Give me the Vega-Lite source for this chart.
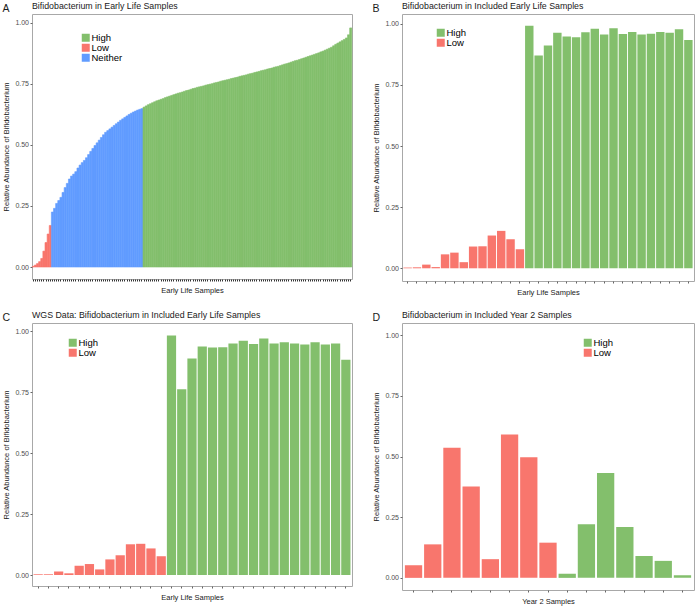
{
  "$schema": "https://vega.github.io/schema/vega-lite/v6.json",
  "padding": {"left": 2, "top": 1, "right": 0, "bottom": 0},
  "datasets": {
    "a": [
      {"s":1,"v":0.003,"g":"Low"},{"s":2,"v":0.008,"g":"Low"},{"s":3,"v":0.014,"g":"Low"},{"s":4,"v":0.022,"g":"Low"},{"s":5,"v":0.035,"g":"Low"},{"s":6,"v":0.065,"g":"Low"},{"s":7,"v":0.10,"g":"Low"},{"s":8,"v":0.135,"g":"Low"},{"s":9,"v":0.17,"g":"Low"},
      {"s":10,"v":0.225,"g":"Neither"},{"s":11,"v":0.24,"g":"Neither"},{"s":12,"v":0.26,"g":"Neither"},{"s":13,"v":0.272,"g":"Neither"},{"s":14,"v":0.285,"g":"Neither"},{"s":15,"v":0.305,"g":"Neither"},{"s":16,"v":0.325,"g":"Neither"},{"s":17,"v":0.342,"g":"Neither"},{"s":18,"v":0.36,"g":"Neither"},{"s":19,"v":0.372,"g":"Neither"},
      {"s":20,"v":0.38,"g":"Neither"},{"s":21,"v":0.39,"g":"Neither"},{"s":22,"v":0.405,"g":"Neither"},{"s":23,"v":0.417,"g":"Neither"},{"s":24,"v":0.427,"g":"Neither"},{"s":25,"v":0.436,"g":"Neither"},{"s":26,"v":0.447,"g":"Neither"},{"s":27,"v":0.46,"g":"Neither"},{"s":28,"v":0.473,"g":"Neither"},{"s":29,"v":0.485,"g":"Neither"},
      {"s":30,"v":0.497,"g":"Neither"},{"s":31,"v":0.508,"g":"Neither"},{"s":32,"v":0.519,"g":"Neither"},{"s":33,"v":0.53,"g":"Neither"},{"s":34,"v":0.541,"g":"Neither"},{"s":35,"v":0.551,"g":"Neither"},{"s":36,"v":0.558,"g":"Neither"},{"s":37,"v":0.565,"g":"Neither"},{"s":38,"v":0.572,"g":"Neither"},{"s":39,"v":0.579,"g":"Neither"},
      {"s":40,"v":0.586,"g":"Neither"},{"s":41,"v":0.593,"g":"Neither"},{"s":42,"v":0.6,"g":"Neither"},{"s":43,"v":0.606,"g":"Neither"},{"s":44,"v":0.612,"g":"Neither"},{"s":45,"v":0.618,"g":"Neither"},{"s":46,"v":0.624,"g":"Neither"},{"s":47,"v":0.629,"g":"Neither"},{"s":48,"v":0.634,"g":"Neither"},{"s":49,"v":0.638,"g":"Neither"},
      {"s":50,"v":0.642,"g":"Neither"},{"s":51,"v":0.645,"g":"Neither"},{"s":52,"v":0.648,"g":"Neither"},
      {"s":53,"v":0.654,"g":"High"},{"s":54,"v":0.659,"g":"High"},{"s":55,"v":0.664,"g":"High"},{"s":56,"v":0.668,"g":"High"},{"s":57,"v":0.672,"g":"High"},{"s":58,"v":0.676,"g":"High"},{"s":59,"v":0.68,"g":"High"},{"s":60,"v":0.683,"g":"High"},{"s":61,"v":0.686,"g":"High"},{"s":62,"v":0.689,"g":"High"},
      {"s":63,"v":0.693,"g":"High"},{"s":64,"v":0.696,"g":"High"},{"s":65,"v":0.699,"g":"High"},{"s":66,"v":0.702,"g":"High"},{"s":67,"v":0.705,"g":"High"},{"s":68,"v":0.708,"g":"High"},{"s":69,"v":0.711,"g":"High"},{"s":70,"v":0.713,"g":"High"},{"s":71,"v":0.716,"g":"High"},{"s":72,"v":0.719,"g":"High"},
      {"s":73,"v":0.722,"g":"High"},{"s":74,"v":0.724,"g":"High"},{"s":75,"v":0.727,"g":"High"},{"s":76,"v":0.73,"g":"High"},{"s":77,"v":0.732,"g":"High"},{"s":78,"v":0.735,"g":"High"},{"s":79,"v":0.737,"g":"High"},{"s":80,"v":0.739,"g":"High"},{"s":81,"v":0.741,"g":"High"},{"s":82,"v":0.744,"g":"High"},
      {"s":83,"v":0.746,"g":"High"},{"s":84,"v":0.748,"g":"High"},{"s":85,"v":0.75,"g":"High"},{"s":86,"v":0.753,"g":"High"},{"s":87,"v":0.755,"g":"High"},{"s":88,"v":0.757,"g":"High"},{"s":89,"v":0.76,"g":"High"},{"s":90,"v":0.762,"g":"High"},{"s":91,"v":0.764,"g":"High"},{"s":92,"v":0.766,"g":"High"},
      {"s":93,"v":0.768,"g":"High"},{"s":94,"v":0.771,"g":"High"},{"s":95,"v":0.773,"g":"High"},{"s":96,"v":0.775,"g":"High"},{"s":97,"v":0.777,"g":"High"},{"s":98,"v":0.78,"g":"High"},{"s":99,"v":0.782,"g":"High"},{"s":100,"v":0.784,"g":"High"},{"s":101,"v":0.786,"g":"High"},{"s":102,"v":0.789,"g":"High"},
      {"s":103,"v":0.791,"g":"High"},{"s":104,"v":0.793,"g":"High"},{"s":105,"v":0.796,"g":"High"},{"s":106,"v":0.798,"g":"High"},{"s":107,"v":0.8,"g":"High"},{"s":108,"v":0.803,"g":"High"},{"s":109,"v":0.805,"g":"High"},{"s":110,"v":0.807,"g":"High"},{"s":111,"v":0.81,"g":"High"},{"s":112,"v":0.812,"g":"High"},
      {"s":113,"v":0.814,"g":"High"},{"s":114,"v":0.817,"g":"High"},{"s":115,"v":0.819,"g":"High"},{"s":116,"v":0.821,"g":"High"},{"s":117,"v":0.824,"g":"High"},{"s":118,"v":0.827,"g":"High"},{"s":119,"v":0.83,"g":"High"},{"s":120,"v":0.832,"g":"High"},{"s":121,"v":0.835,"g":"High"},{"s":122,"v":0.838,"g":"High"},
      {"s":123,"v":0.841,"g":"High"},{"s":124,"v":0.844,"g":"High"},{"s":125,"v":0.846,"g":"High"},{"s":126,"v":0.849,"g":"High"},{"s":127,"v":0.852,"g":"High"},{"s":128,"v":0.855,"g":"High"},{"s":129,"v":0.858,"g":"High"},{"s":130,"v":0.861,"g":"High"},{"s":131,"v":0.864,"g":"High"},{"s":132,"v":0.867,"g":"High"},
      {"s":133,"v":0.87,"g":"High"},{"s":134,"v":0.873,"g":"High"},{"s":135,"v":0.876,"g":"High"},{"s":136,"v":0.88,"g":"High"},{"s":137,"v":0.883,"g":"High"},{"s":138,"v":0.887,"g":"High"},{"s":139,"v":0.891,"g":"High"},{"s":140,"v":0.895,"g":"High"},{"s":141,"v":0.899,"g":"High"},{"s":142,"v":0.905,"g":"High"},
      {"s":143,"v":0.911,"g":"High"},{"s":144,"v":0.916,"g":"High"},{"s":145,"v":0.921,"g":"High"},{"s":146,"v":0.926,"g":"High"},{"s":147,"v":0.931,"g":"High"},{"s":148,"v":0.937,"g":"High"},{"s":149,"v":0.95,"g":"High"},{"s":150,"v":0.978,"g":"High"}
    ],
    "b": [
      {"s":1,"v":0.003,"g":"Low"},{"s":2,"v":0.004,"g":"Low"},{"s":3,"v":0.015,"g":"Low"},{"s":4,"v":0.005,"g":"Low"},{"s":5,"v":0.057,"g":"Low"},{"s":6,"v":0.064,"g":"Low"},{"s":7,"v":0.025,"g":"Low"},{"s":8,"v":0.089,"g":"Low"},{"s":9,"v":0.09,"g":"Low"},{"s":10,"v":0.134,"g":"Low"},{"s":11,"v":0.153,"g":"Low"},{"s":12,"v":0.119,"g":"Low"},{"s":13,"v":0.078,"g":"Low"},
      {"s":14,"v":0.992,"g":"High"},{"s":15,"v":0.87,"g":"High"},{"s":16,"v":0.911,"g":"High"},{"s":17,"v":0.963,"g":"High"},{"s":18,"v":0.948,"g":"High"},{"s":19,"v":0.945,"g":"High"},{"s":20,"v":0.965,"g":"High"},{"s":21,"v":0.98,"g":"High"},{"s":22,"v":0.956,"g":"High"},{"s":23,"v":0.982,"g":"High"},{"s":24,"v":0.958,"g":"High"},{"s":25,"v":0.966,"g":"High"},{"s":26,"v":0.956,"g":"High"},{"s":27,"v":0.959,"g":"High"},{"s":28,"v":0.966,"g":"High"},{"s":29,"v":0.963,"g":"High"},{"s":30,"v":0.978,"g":"High"},{"s":31,"v":0.934,"g":"High"}
    ],
    "c": [
      {"s":1,"v":0.003,"g":"Low"},{"s":2,"v":0.003,"g":"Low"},{"s":3,"v":0.014,"g":"Low"},{"s":4,"v":0.007,"g":"Low"},{"s":5,"v":0.038,"g":"Low"},{"s":6,"v":0.045,"g":"Low"},{"s":7,"v":0.023,"g":"Low"},{"s":8,"v":0.064,"g":"Low"},{"s":9,"v":0.081,"g":"Low"},{"s":10,"v":0.126,"g":"Low"},{"s":11,"v":0.128,"g":"Low"},{"s":12,"v":0.109,"g":"Low"},{"s":13,"v":0.077,"g":"Low"},
      {"s":14,"v":0.982,"g":"High"},{"s":15,"v":0.761,"g":"High"},{"s":16,"v":0.887,"g":"High"},{"s":17,"v":0.937,"g":"High"},{"s":18,"v":0.933,"g":"High"},{"s":19,"v":0.934,"g":"High"},{"s":20,"v":0.949,"g":"High"},{"s":21,"v":0.96,"g":"High"},{"s":22,"v":0.947,"g":"High"},{"s":23,"v":0.969,"g":"High"},{"s":24,"v":0.949,"g":"High"},{"s":25,"v":0.954,"g":"High"},{"s":26,"v":0.949,"g":"High"},{"s":27,"v":0.945,"g":"High"},{"s":28,"v":0.954,"g":"High"},{"s":29,"v":0.945,"g":"High"},{"s":30,"v":0.949,"g":"High"},{"s":31,"v":0.882,"g":"High"}
    ],
    "d": [
      {"s":1,"v":0.052,"g":"Low"},{"s":2,"v":0.138,"g":"Low"},{"s":3,"v":0.536,"g":"Low"},{"s":4,"v":0.376,"g":"Low"},{"s":5,"v":0.077,"g":"Low"},{"s":6,"v":0.591,"g":"Low"},{"s":7,"v":0.497,"g":"Low"},{"s":8,"v":0.145,"g":"Low"},
      {"s":9,"v":0.017,"g":"High"},{"s":10,"v":0.221,"g":"High"},{"s":11,"v":0.432,"g":"High"},{"s":12,"v":0.21,"g":"High"},{"s":13,"v":0.09,"g":"High"},{"s":14,"v":0.07,"g":"High"},{"s":15,"v":0.011,"g":"High"}
    ]
  },
  "resolve": {"scale": {"color": "independent"}, "legend": {"color": "independent"}},
  "spacing": 13,
  "vconcat": [
    {
      "spacing": 19,
      "resolve": {"scale": {"color": "independent"}, "legend": {"color": "independent"}},
      "hconcat": [
        {
          "title": {"text": "A", "fontSize": 10.5, "frame": "bounds", "dy": 13, "offset": 0},
          "resolve": {"scale": {"color": "independent", "stroke": "independent"}, "legend": {"color": "independent"}},
          "vconcat": [
            {
              "title": {"text": "Bifidobacterium in Early Life Samples"},
              "width": 320, "height": 265,
              "data": {"name": "a"},
              "mark": {"type": "bar", "strokeWidth": 0.6},
              "encoding": {
                "x": {"field": "s", "type": "ordinal", "sort": null, "scale": {"paddingInner": 0, "paddingOuter": 0.1}, "axis": {"labels": false, "title": "Early Life Samples", "tickColor": "#333"}},
                "y": {"field": "v", "type": "quantitative", "scale": {"domain": [-0.049, 1.035], "nice": false, "zero": false}, "axis": {"values": [0, 0.25, 0.5, 0.75, 1], "format": ".2f", "title": "Relative Abundance of Bifidobacterium"}},
                "color": {"field": "g", "type": "nominal", "scale": {"domain": ["High", "Low", "Neither"], "range": ["#83BF6C", "#F8766D", "#619CFF"]}, "legend": {"orient": "none", "legendX": 49, "legendY": 19, "title": null}},
                "stroke": {"field": "g", "type": "nominal", "scale": {"domain": ["High", "Low", "Neither"], "range": ["#83BF6C", "#F8766D", "#619CFF"]}, "legend": null}
              }
            }
          ]
        },
        {
          "title": {"text": "B", "fontSize": 10.5, "frame": "bounds", "dy": 13, "offset": 0},
          "resolve": {"scale": {"color": "independent"}, "legend": {"color": "independent"}},
          "vconcat": [
            {
              "title": {"text": "Bifidobacterium in Included Early Life Samples"},
              "width": 292, "height": 267,
              "data": {"name": "b"},
              "mark": {"type": "bar"},
              "encoding": {
                "x": {"field": "s", "type": "ordinal", "sort": null, "scale": {"paddingInner": 0.1, "paddingOuter": 0.15}, "axis": {"labels": false, "title": "Early Life Samples"}},
                "y": {"field": "v", "type": "quantitative", "scale": {"domain": [-0.052, 1.04], "nice": false, "zero": false}, "axis": {"values": [0, 0.25, 0.5, 0.75, 1], "format": ".2f", "title": "Relative Abundance of Bifidobacterium"}},
                "color": {"field": "g", "type": "nominal", "scale": {"domain": ["High", "Low"], "range": ["#83BF6C", "#F8766D"]}, "legend": {"orient": "none", "legendX": 34, "legendY": 14, "title": null}}
              }
            }
          ]
        }
      ]
    },
    {
      "spacing": 19,
      "resolve": {"scale": {"color": "independent"}, "legend": {"color": "independent"}},
      "hconcat": [
        {
          "title": {"text": "C", "fontSize": 10.5, "frame": "bounds", "dy": 13, "offset": 0},
          "resolve": {"scale": {"color": "independent"}, "legend": {"color": "independent"}},
          "vconcat": [
            {
              "title": {"text": "WGS Data: Bifidobacterium in Included Early Life Samples"},
              "width": 320, "height": 263,
              "data": {"name": "c"},
              "mark": {"type": "bar"},
              "encoding": {
                "x": {"field": "s", "type": "ordinal", "sort": null, "scale": {"paddingInner": 0.1, "paddingOuter": 0.15}, "axis": {"labels": false, "title": "Early Life Samples"}},
                "y": {"field": "v", "type": "quantitative", "scale": {"domain": [-0.045, 1.033], "nice": false, "zero": false}, "axis": {"values": [0, 0.25, 0.5, 0.75, 1], "format": ".2f", "title": "Relative Abundance of Bifidobacterium"}},
                "color": {"field": "g", "type": "nominal", "scale": {"domain": ["High", "Low"], "range": ["#83BF6C", "#F8766D"]}, "legend": {"orient": "none", "legendX": 36, "legendY": 15, "title": null}}
              }
            }
          ]
        },
        {
          "title": {"text": "D", "fontSize": 10.5, "frame": "bounds", "dy": 13, "offset": 0},
          "resolve": {"scale": {"color": "independent"}, "legend": {"color": "independent"}},
          "vconcat": [
            {
              "title": {"text": "Bifidobacterium in Included Year 2 Samples"},
              "width": 292, "height": 267,
              "data": {"name": "d"},
              "mark": {"type": "bar"},
              "encoding": {
                "x": {"field": "s", "type": "ordinal", "sort": null, "scale": {"paddingInner": 0.1, "paddingOuter": 0.15}, "axis": {"labels": false, "title": "Year 2 Samples"}},
                "y": {"field": "v", "type": "quantitative", "scale": {"domain": [-0.05, 1.05], "nice": false, "zero": false}, "axis": {"values": [0, 0.25, 0.5, 0.75, 1], "format": ".2f", "title": "Relative Abundance of Bifidobacterium"}},
                "color": {"field": "g", "type": "nominal", "scale": {"domain": ["High", "Low"], "range": ["#83BF6C", "#F8766D"]}, "legend": {"orient": "none", "legendX": 181, "legendY": 15, "title": null}}
              }
            }
          ]
        }
      ]
    }
  ],
  "config": {
    "font": "Liberation Sans",
    "view": {"stroke": "#a8a8a8", "strokeWidth": 1},
    "title": {"fontSize": 8.8, "fontWeight": "normal", "anchor": "start", "frame": "group", "color": "#1a1a1a", "offset": 3},
    "axis": {"labelFontSize": 7, "labelColor": "#4d4d4d", "titleFontSize": 7.5, "titleFontWeight": "normal", "titleColor": "#1a1a1a", "tickColor": "#666", "tickSize": 2, "domain": false, "grid": false, "labelPadding": 1.5},
    "axisX": {"titlePadding": 5},
    "axisY": {"titlePadding": 4},
    "legend": {"symbolType": "square", "symbolSize": 64, "symbolStrokeWidth": 0, "labelFontSize": 9.5, "labelColor": "#000", "rowPadding": -2, "labelOffset": 1, "padding": 0}
  }
}
